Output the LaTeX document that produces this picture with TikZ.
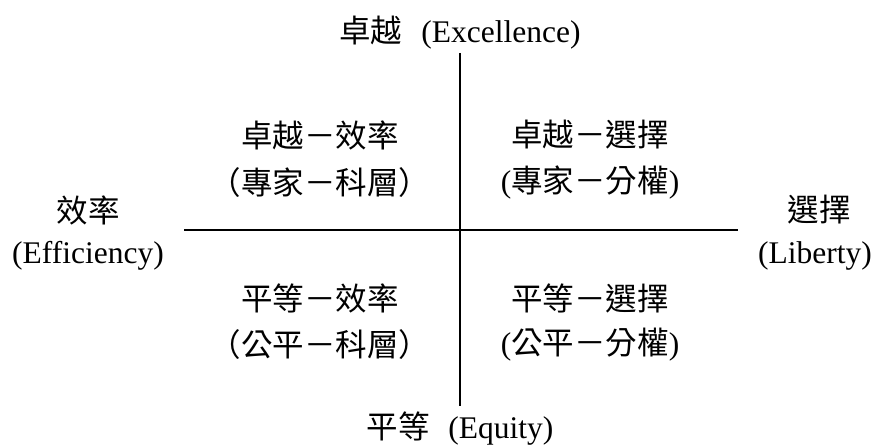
\documentclass[tikz,border=0pt]{standalone}
\usepackage{fontspec}
\setmainfont{Liberation Serif}
\newfontfamily\cjk{Noto Sans CJK TC}
\newcommand{\lpar}{\makebox[1em][r]{（}}
\newcommand{\rpar}{\makebox[1em][l]{）}}
\begin{document}
\begin{tikzpicture}[x=1pt,y=-1pt,
  lbl/.style={font=\fontsize{31.5}{38}\selectfont, inner sep=0pt, anchor=center},
  axis/.style={line width=1.8pt}]
\useasboundingbox (0,0) rectangle (876,446);
\node[lbl] (top) at (460,33) {{\cjk 卓越}\hspace{0.6em}(Excellence)};
\node[lbl] (bot) at (460,429) {{\cjk 平等}\hspace{0.6em}(Equity)};
\node[lbl] (l1) at (88,210) {\cjk 效率};
\node[lbl] (l2) at (88,256) {(Efficiency)};
\node[lbl] (r1) at (819,210) {\cjk 選擇};
\node[lbl] (r2) at (815,256) {(Liberty)};
\node[lbl] (tl1) at (320,135) {\cjk 卓越－效率};
\node[lbl] (tl2) at (320,183) {\cjk \lpar 專家－科層\rpar};
\node[lbl] (tr1) at (590,135) {\cjk 卓越－選擇};
\node[lbl] (tr2) at (590,183) {({\cjk 專家－分權})};
\node[lbl] (bl1) at (320,298) {\cjk 平等－效率};
\node[lbl] (bl2) at (320,345) {\cjk \lpar 公平－科層\rpar};
\node[lbl] (br1) at (590,298) {\cjk 平等－選擇};
\node[lbl] (br2) at (590,345) {({\cjk 公平－分權})};
\coordinate (vt) at (460,53);
\coordinate (vb) at (460,406);
\coordinate (hl) at (184,230);
\coordinate (hr) at (738,230);
\draw[axis] (vt) -- (vb);
\draw[axis] (hl) -- (hr);
\end{tikzpicture}
\end{document}
